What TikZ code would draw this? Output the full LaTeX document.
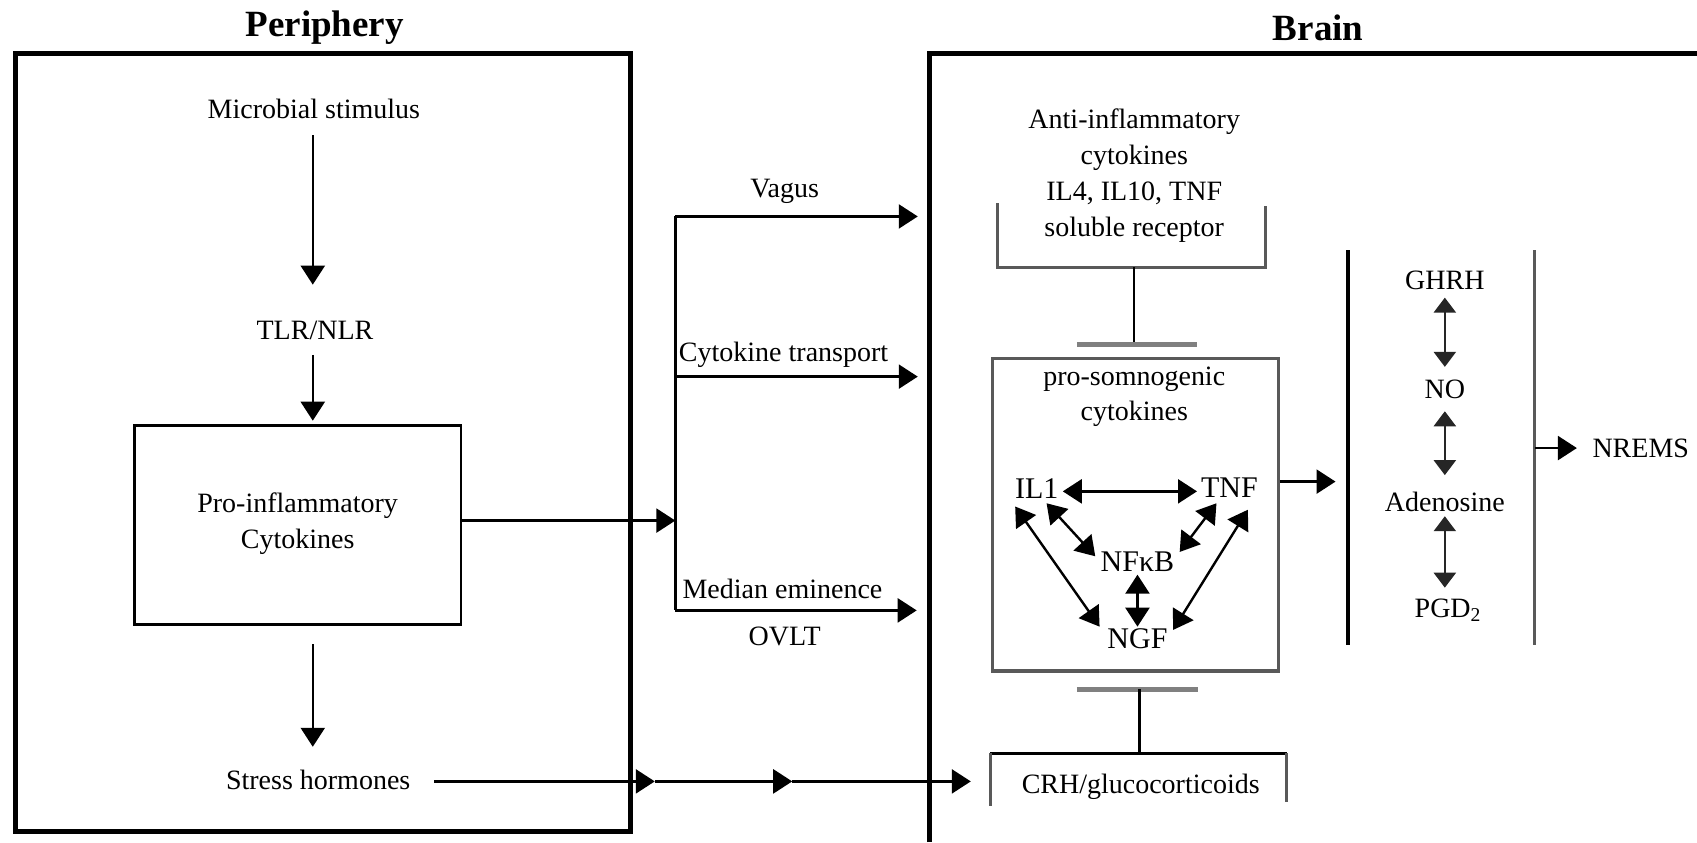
\documentclass[tikz,border=0pt]{standalone}
\usepackage{fontspec}
\setmainfont{Liberation Serif}
\usetikzlibrary{arrows.meta,calc,fit}
\begin{document}
\begin{tikzpicture}[x=0.5412pt,y=-0.5412pt,
  txt/.style={font=\fontsize{14}{18}\selectfont, inner sep=1pt, align=center},
  ttl/.style={font=\fontsize{18.5}{22}\selectfont\bfseries, inner sep=0pt},
  ln/.style={line width=1.2pt},
  arr/.style={line width=1.2pt, -{Triangle[length=9.5pt,width=12pt]}},
  darr/.style={line width=1.2pt, {Triangle[length=9.5pt,width=12pt]}-{Triangle[length=9.5pt,width=12pt]}},
  vdarr/.style={line width=1.2pt, draw=black!85, {Triangle[length=7.5pt,width=11pt]}-{Triangle[length=7.5pt,width=11pt]}},
  outer/.style={draw, line width=2.5pt, inner sep=0pt},
  thinbox/.style={draw, line width=1.4pt, inner sep=0pt},
  bar/.style={line width=2.6pt, draw=black!50},
  gln/.style={line width=1.4pt, draw=black!65},
]
\useasboundingbox (0,0) rectangle (1568,778);
\fill[white] (0,0) rectangle (1568,778);

% titles
\node[ttl] (tper) at (300,26) {Periphery};
\node[ttl] (tbr) at (1218,26) {Brain};

% ---------------- Periphery ----------------
\node[outer, fit={(14.5,49) (583,768)}] (per) {};
\node[txt] (mic) at (290,101) {Microbial stimulus};
\node[txt] (tlr) at (291,305) {TLR/NLR};
\node[thinbox, fit={(124,393) (426,577)}] (pro) {};
\node[txt] (protxt) at (275,484) {Pro-inflammatory\\Cytokines};
\node[txt] (stress) at (294,721) {Stress hormones};

\draw[arr] ($(mic)+(-1,24)$) -- ($(tlr)+(-2,-42)$);
\draw[arr] ($(tlr)+(-2,23)$) -- ($(tlr |- pro.north)+(-2,-3)$);
\draw[arr] ($(pro.south)+(14,17)$) -- ($(stress)+(-5,-31)$);

% ---------------- routes ----------------
\coordinate (hub) at (624,481);
\coordinate (vtop) at (624,200);
\coordinate (vmid) at (624,348);
\coordinate (vbot) at (624,564);
\coordinate (vagE) at (848,200);
\coordinate (ctE) at (848,348);
\coordinate (meE) at (847,564);

\draw[arr] (pro.east |- hub) -- (hub);
\draw[ln] (vtop) -- (vbot);
\draw[arr] (vtop) -- (vagE);
\draw[arr] (vmid) -- (ctE);
\draw[arr] (vbot) -- (meE);
\node[txt] (lvag) at (725,177) {Vagus};
\node[txt] (lct) at (724,328) {Cytokine transport};
\node[txt] (lme) at (723,544) {Median eminence};
\node[txt] (lovlt) at (725,588) {OVLT};

% stress hormones chain
\coordinate (s1) at (605,722);
\coordinate (s2) at (732,722);
\coordinate (s3) at (897,722);
\draw[arr] ($(stress.east)+(20,1)$) -- (s1);
\draw[arr] (s1) -- (s2);
\draw[arr] (s2) -- (s3);

% ---------------- Brain ----------------
\draw[line width=2.5pt] (859,778) -- (859,49) -- (1568,49);

\node[txt] (anti) at (1048,162) {Anti-inflammatory\\cytokines\\IL4, IL10, TNF\\soluble receptor};
\draw[gln] (922,188) -- (922,247) -- (1169,247) -- (1169,190);
\coordinate (antib) at (1048,247);
\coordinate (tb1) at (1048,318);
\draw[ln] (antib) -- (tb1);
\draw[bar] ($(tb1)+(-53,0)$) -- ($(tb1)+(58,0)$);

\node[draw=black!65, line width=1.6pt, inner sep=0pt, fit={(917,331) (1181,620)}] (som) {};
\node[txt, font=\fontsize{14}{17.5}\selectfont] (somt) at (1048,367) {pro-somnogenic\\cytokines};
\node[txt, font=\fontsize{15}{18}\selectfont] (il1) at (958,451) {IL1};
\node[txt, font=\fontsize{15}{18}\selectfont] (tnf) at (1136,451) {TNF};
\node[txt, font=\fontsize{15}{18}\selectfont] (nfkb) at (1051,519) {NFκB};
\node[txt, font=\fontsize{15}{18}\selectfont] (ngf) at (1051,590) {NGF};

\draw[darr] ($(il1)+(24,3)$) -- ($(tnf)+(-30,3)$);
\draw[darr] ($(il1)+(9,14)$) -- ($(nfkb)+(-39,-5)$);
\draw[darr] ($(tnf)+(-12,14)$) -- ($(nfkb)+(39,-9)$);
\draw[darr] ($(il1)+(-20,17)$) -- ($(ngf)+(-35,-11)$);
\draw[darr] ($(tnf)+(17,20)$) -- ($(ngf)+(33,-8)$);
\draw[darr] ($(nfkb)+(0,12)$) -- ($(ngf)+(0,-11)$);

\coordinate (somout) at (1234,445);
\draw[arr] (som.east |- somout) -- (somout);

% mediator column
\coordinate (c1t) at (1245.6,231);
\coordinate (c1b) at (1245.6,596);
\coordinate (c2t) at (1418,231);
\coordinate (c2b) at (1418,596);
\draw[line width=1.6pt] (c1t) -- (c1b);
\draw[line width=1.6pt, draw=black!65] (c2t) -- (c2b);

\node[txt] (ghrh) at (1335,259) {GHRH};
\node[txt] (no) at (1335,360) {NO};
\node[txt] (ade) at (1335,463.5) {Adenosine};
\node[txt] (pgd) at (1338,564) {PGD\textsubscript{2}};

\draw[vdarr] ($(ghrh)+(0,16)$) -- ($(no)+(0,-21)$);
\draw[vdarr] ($(no)+(0,20)$) -- ($(ade)+(0,-24.5)$);
\draw[vdarr] ($(ade)+(0,13.5)$) -- ($(pgd)+(-3,-21)$);

\node[txt] (nrems) at (1516,414) {NREMS};
\coordinate (r1) at (1418,414);
\draw[arr] (r1) -- ($(nrems)+(-59,0)$);

% CRH
\coordinate (tb2) at (1053,637);
\coordinate (crhtop) at (1053,696);
\draw[bar] ($(tb2)+(-58,0)$) -- ($(tb2)+(54,0)$);
\draw[ln] (tb2) -- (crhtop);
\draw[line width=1.6pt] (915,696) -- (1189,696);
\draw[gln] (915,696) -- (915,745);
\draw[gln] (1189,696) -- (1189,741);
\node[txt] (crh) at (1054,727) {CRH/glucocorticoids};
\end{tikzpicture}
\end{document}
